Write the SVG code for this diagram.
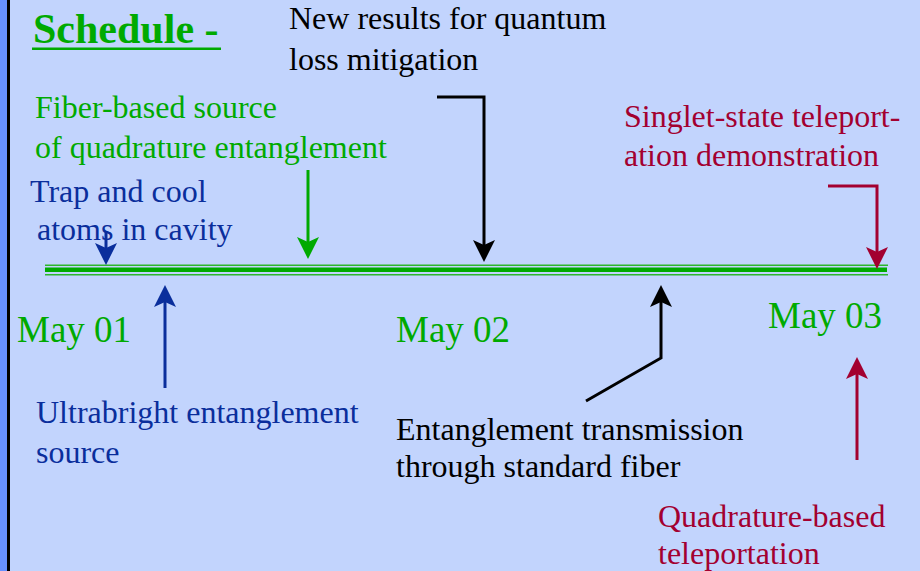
<svg xmlns="http://www.w3.org/2000/svg" width="920" height="571" viewBox="0 0 920 571">
<style>
text{font-family:"Liberation Serif","Times New Roman",serif;font-size:32px}
.g{fill:#00AA00}.b{fill:#0A2E9C}.k{fill:#000}.r{fill:#A30030}
.date{font-size:37px}
.ab{stroke:#0A2E9C}.ag{stroke:#00AA00}.ak{stroke:#000}.ar{stroke:#A30030}
.conn path{fill:none;stroke-width:3}
</style>
<defs>
<marker id="hb" viewBox="0 0 22 22" markerWidth="22" markerHeight="22" refX="18" refY="11" orient="auto" markerUnits="userSpaceOnUse"><path d="M0,0 L22,11 L0,22 L5,11 z" fill="#0A2E9C"/></marker>
<marker id="hg" viewBox="0 0 22 22" markerWidth="22" markerHeight="22" refX="18" refY="11" orient="auto" markerUnits="userSpaceOnUse"><path d="M0,0 L22,11 L0,22 L5,11 z" fill="#00AA00"/></marker>
<marker id="hk" viewBox="0 0 22 22" markerWidth="22" markerHeight="22" refX="18" refY="11" orient="auto" markerUnits="userSpaceOnUse"><path d="M0,0 L22,11 L0,22 L5,11 z" fill="#000"/></marker>
<marker id="hr" viewBox="0 0 22 22" markerWidth="22" markerHeight="22" refX="18" refY="11" orient="auto" markerUnits="userSpaceOnUse"><path d="M0,0 L22,11 L0,22 L5,11 z" fill="#A30030"/></marker>
</defs>
<rect x="0" y="0" width="920" height="571" fill="#C2D4FD"/>
<rect x="0" y="0" width="7" height="571" fill="#6690FF"/>
<rect x="7" y="0" width="3" height="571" fill="#000"/>
<g id="title">
<text x="33" y="43" class="g" style="font-size:42px;font-weight:bold">Schedule -</text>
<rect x="32" y="47.5" width="189" height="2.5" fill="#00AA00"/>
</g>
<g id="timeline">
<rect x="45" y="264.5" width="843" height="1.5" fill="#2DB52D"/>
<rect x="45" y="267.5" width="842" height="4.5" fill="#00AA00"/>
<rect x="45" y="274" width="843" height="1.5" fill="#2DB52D"/>
</g>
<g id="may01"><text x="17" y="342" class="g date">May 01</text></g>
<g id="may02"><text x="396" y="342" class="g date">May 02</text></g>
<g id="may03"><text x="768" y="328" class="g date">May 03</text></g>
<g id="new-results"><text x="289" y="29" class="k">New results for quantum</text><text x="289" y="70" class="k">loss mitigation</text></g>
<g id="fiber-source"><text x="35" y="118" class="g">Fiber-based source</text><text x="35" y="158" class="g">of quadrature entanglement</text></g>
<g id="trap-cool"><text x="30" y="202" class="b">Trap and cool</text><text x="37" y="240" class="b">atoms in cavity</text></g>
<g id="singlet"><text x="624" y="127" class="r">Singlet-state teleport-</text><text x="624" y="166" class="r">ation demonstration</text></g>
<g id="ultrabright"><text x="36" y="423" class="b">Ultrabright entanglement</text><text x="36" y="463" class="b">source</text></g>
<g id="transmission"><text x="396" y="440" class="k">Entanglement transmission</text><text x="396" y="477" class="k">through standard fiber</text></g>
<g id="quad-tele"><text x="658" y="527" class="r">Quadrature-based</text><text x="658" y="564" class="r">teleportation</text></g>
<g class="conn" id="connectors">
<path class="ab" d="M106,232 L106,261" marker-end="url(#hb)"/>
<path class="ag" d="M308,170 L308,255" marker-end="url(#hg)"/>
<path class="ak" d="M437,97 L484,97 L484,258" marker-end="url(#hk)"/>
<path class="ar" d="M828,186 L877,186 L877,265" marker-end="url(#hr)"/>
<path class="ab" d="M165,388 L165,289" marker-end="url(#hb)"/>
<path class="ak" d="M586,401 L661,358 L661,289" marker-end="url(#hk)"/>
<path class="ar" d="M857,460 L857,361" marker-end="url(#hr)"/>
</g>
</svg>
